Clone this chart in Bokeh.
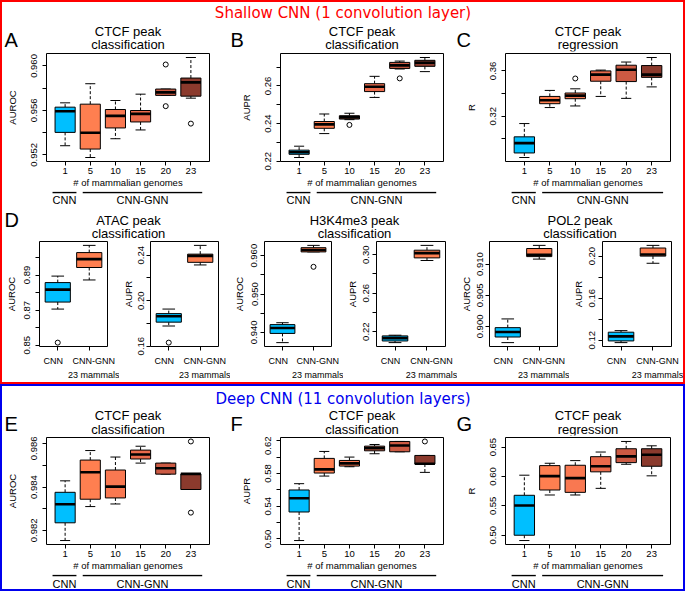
from bokeh.plotting import figure
from bokeh.layouts import row, column
from bokeh.models import Range1d, FixedTicker, ColumnDataSource, LinearAxis
from bokeh.embed import file_html
from bokeh.resources import INLINE
from bokeh.core.properties import value

FONT = "Liberation Sans"
HFONT = "DejaVu Sans"

# ---------------- data ----------------
genomes = ["1", "5", "10", "15", "20", "23"]
models2 = ["CNN", "CNN-GNN"]
models2_label_x = [0.86, 2.14]
colors6 = ["#00BFFF", "#FF7F50", "#F97851", "#EA6A4B", "#CC5A43", "#8B3A2D"]
colors2 = ["#00BFFF", "#FF7F50"]

group_names = ["CNN", "CNN-GNN"]
group_start = [0.5, 1.7]
group_end = [1.45, 6.45]

# A: CTCF peak classification AUROC (shallow)
A_lo = [0.95282, 0.95176, 0.95345, 0.95424, 0.95735, 0.95710]
A_q1 = [0.95402, 0.95252, 0.95442, 0.95496, 0.95735, 0.95728]
A_med = [0.95592, 0.95399, 0.95551, 0.95569, 0.95762, 0.95852]
A_q3 = [0.95629, 0.95656, 0.95608, 0.95599, 0.95792, 0.95891]
A_hi = [0.95668, 0.95840, 0.95689, 0.95746, 0.95792, 0.96076]
A_out_grp = ["20", "20", "23"]
A_out = [0.96013, 0.95638, 0.95481]
A_ticks = [0.952, 0.954, 0.956, 0.958, 0.960]
A_tlabels = ["0.952", "", "0.956", "", "0.960"]

# B: CTCF peak classification AUPR (shallow)
B_lo = [0.2220, 0.2347, 0.2421, 0.2539, 0.2690, 0.2676]
B_q1 = [0.2237, 0.2375, 0.2424, 0.2570, 0.2693, 0.2704]
B_med = [0.2248, 0.2396, 0.2433, 0.2596, 0.2709, 0.2723]
B_q3 = [0.2259, 0.2411, 0.2442, 0.2612, 0.2725, 0.2736]
B_hi = [0.2280, 0.2451, 0.2455, 0.2651, 0.2732, 0.2751]
B_out_grp = ["10", "20"]
B_out = [0.2393, 0.2640]
B_ticks = [0.22, 0.23, 0.24, 0.25, 0.26, 0.27]
B_tlabels = ["0.22", "", "0.24", "", "0.26", ""]

# C: CTCF peak regression R (shallow)
C_lo = [0.2837, 0.3277, 0.3291, 0.3375, 0.3358, 0.3459]
C_q1 = [0.2877, 0.3311, 0.3355, 0.3509, 0.3506, 0.3543]
C_med = [0.2964, 0.3342, 0.3382, 0.3567, 0.3610, 0.3567]
C_q3 = [0.3019, 0.3375, 0.3405, 0.3600, 0.3650, 0.3647]
C_hi = [0.3136, 0.3428, 0.3442, 0.3607, 0.3678, 0.3718]
C_out_grp = ["10"]
C_out = [0.3533]
C_ticks = [0.28, 0.30, 0.32, 0.34, 0.36, 0.38]
C_tlabels = ["0.28", "", "0.32", "", "0.36", ""]

# D1: ATAC AUROC
D1_lo = [0.8706, 0.8872]
D1_q1 = [0.8746, 0.8943]
D1_med = [0.8817, 0.8991]
D1_q3 = [0.8857, 0.9028]
D1_hi = [0.8894, 0.9069]
D1_out_grp = ["CNN"]
D1_out = [0.8515]
D1_ticks = [0.85, 0.86, 0.87, 0.88, 0.89, 0.90]
D1_tlabels = ["0.85", "", "0.87", "", "0.89", ""]

# D2: ATAC AUPR
D2_lo = [0.1777, 0.2314]
D2_q1 = [0.1811, 0.2337]
D2_med = [0.1863, 0.2394]
D2_q3 = [0.1886, 0.2409]
D2_hi = [0.1926, 0.2486]
D2_out_grp = ["CNN"]
D2_out = [0.1631]
D2_ticks = [0.16, 0.18, 0.20, 0.22, 0.24]
D2_tlabels = ["0.16", "", "0.20", "", "0.24"]

# D3: H3K4me3 AUROC
D3_lo = [0.9373, 0.9610]
D3_q1 = [0.9397, 0.9610]
D3_med = [0.9411, 0.9615]
D3_q3 = [0.9420, 0.9621]
D3_hi = [0.9425, 0.9627]
D3_out_grp = ["CNN-GNN"]
D3_out = [0.9571]
D3_ticks = [0.940, 0.945, 0.950, 0.955, 0.960]
D3_tlabels = ["0.940", "", "0.950", "", "0.960"]

# D4: H3K4me3 AUPR
D4_lo = [0.2086, 0.2940]
D4_q1 = [0.2103, 0.2967]
D4_med = [0.2133, 0.3017]
D4_q3 = [0.2156, 0.3047]
D4_hi = [0.2163, 0.3097]
D4_out_grp = []
D4_out = []
D4_ticks = [0.22, 0.24, 0.26, 0.28, 0.30]
D4_tlabels = ["0.22", "", "0.26", "", "0.30"]

# D5: POL2 AUROC
D5_lo = [0.8974, 0.9108]
D5_q1 = [0.8983, 0.9112]
D5_med = [0.8991, 0.9115]
D5_q3 = [0.8998, 0.9125]
D5_hi = [0.9012, 0.9130]
D5_out_grp = []
D5_out = []
D5_ticks = [0.900, 0.905, 0.910]
D5_tlabels = ["0.900", "0.905", "0.910"]

# D6: POL2 AUPR
D6_lo = [0.1178, 0.1932]
D6_q1 = [0.1194, 0.2000]
D6_med = [0.1237, 0.2015]
D6_q3 = [0.1277, 0.2077]
D6_hi = [0.1292, 0.2102]
D6_out_grp = []
D6_out = []
D6_ticks = [0.12, 0.14, 0.16, 0.18, 0.20]
D6_tlabels = ["0.12", "", "0.16", "", "0.20"]

# E: CTCF peak classification AUROC (deep)
E_lo = [0.98153, 0.98310, 0.98322, 0.98511, 0.98460, 0.98389]
E_q1 = [0.98235, 0.98344, 0.98350, 0.98530, 0.98460, 0.98389]
E_med = [0.98321, 0.98469, 0.98402, 0.98551, 0.98487, 0.98461]
E_q3 = [0.98376, 0.98525, 0.98479, 0.98571, 0.98511, 0.98461]
E_hi = [0.98429, 0.98569, 0.98539, 0.98589, 0.98511, 0.98461]
E_out_grp = ["23", "23"]
E_out = [0.98611, 0.98282]
E_ticks = [0.982, 0.983, 0.984, 0.985, 0.986]
E_tlabels = ["0.982", "", "0.984", "", "0.986"]

# F: CTCF peak classification AUPR (deep)
F_lo = [0.4980, 0.5768, 0.5882, 0.6041, 0.6065, 0.5813]
F_q1 = [0.5329, 0.5805, 0.5890, 0.6077, 0.6065, 0.5915]
F_med = [0.5496, 0.5850, 0.5923, 0.6110, 0.6142, 0.5919]
F_q3 = [0.5598, 0.5984, 0.5959, 0.6134, 0.6191, 0.6020]
F_hi = [0.5675, 0.6069, 0.6000, 0.6154, 0.6191, 0.6020]
F_out_grp = ["23"]
F_out = [0.6191]
F_ticks = [0.50, 0.52, 0.54, 0.56, 0.58, 0.60, 0.62]
F_tlabels = ["0.50", "", "0.54", "", "0.58", "", "0.62"]

# G: CTCF peak regression R (deep)
G_lo = [0.4910, 0.5685, 0.5685, 0.5798, 0.6208, 0.6011]
G_q1 = [0.5000, 0.5770, 0.5730, 0.6079, 0.6236, 0.6174]
G_med = [0.5506, 0.6006, 0.5972, 0.6174, 0.6343, 0.6371]
G_q3 = [0.5680, 0.6185, 0.6191, 0.6337, 0.6472, 0.6472]
G_hi = [0.6022, 0.6225, 0.6270, 0.6416, 0.6596, 0.6522]
G_out_grp = []
G_out = []
G_ticks = [0.50, 0.55, 0.60, 0.65]
G_tlabels = ["0.50", "0.55", "0.60", "0.65"]


# ---------------- helpers ----------------
def blank_fig(width, height, x_range, y_range, left=1, right=1):
    p = figure(width=width, height=height, x_range=x_range, y_range=y_range,
               toolbar_location=None, tools="", output_backend="svg",
               x_axis_location=None, y_axis_location=None, title_location=None,
               min_border=1, min_border_left=left, min_border_right=right,
               min_border_top=1, min_border_bottom=1)
    p.grid.visible = False
    p.outline_line_color = None
    p.border_fill_color = "white"
    p.background_fill_color = "white"
    return p


def pixel_fig(width, height, texts):
    p = blank_fig(width, height, Range1d(1, width - 1), Range1d(1, height - 1))
    for (x, y, txt, font, size, color, align) in texts:
        p.text(x=[x], y=[y], text=[txt], text_font=value(font), text_font_size=size,
               text_color=color, text_align=align, text_baseline="middle")
    return p


def style_axis(ax, size="9.5px"):
    ax.axis_line_color = None
    ax.major_tick_line_color = "black"
    ax.major_tick_in = 0
    ax.major_tick_out = 4
    ax.minor_tick_line_color = None
    ax.major_label_text_font = FONT
    ax.major_label_text_font_size = size
    ax.major_label_text_color = "black"
    ax.axis_label_text_font = FONT
    ax.axis_label_text_font_size = "9.5px"
    ax.axis_label_text_font_style = "normal"
    ax.axis_label_text_color = "black"


def make_box(width, height, left, right, top, bottom, labels, colors,
             lo, q1, med, q3, hi, out_grp, out_val, yticks, ylabels, ylabel,
             xlabel=None, ylab_standoff=10, show_xlabels=True, ytick_standoff=3):
    n = len(labels)
    xs = list(range(1, n + 1))
    allv = lo + hi + out_val
    vmin, vmax = min(allv), max(allv)
    pad = 0.04 * (vmax - vmin)
    p = figure(width=width, height=height,
               x_range=Range1d(0.5 - 0.04 * n, n + 0.5 + 0.04 * n),
               y_range=Range1d(vmin - pad, vmax + pad),
               toolbar_location=None, tools="", output_backend="svg",
               title_location=None, min_border=1,
               min_border_left=left, min_border_right=right,
               min_border_top=top, min_border_bottom=bottom)
    p.grid.visible = False
    p.outline_line_color = "black"
    p.outline_line_width = 1
    p.background_fill_color = "white"
    p.border_fill_color = "white"
    src = ColumnDataSource(dict(
        x=xs, lo=lo, q1=q1, med=med, q3=q3, hi=hi, fill=colors[:n],
        xl=[x - 0.4 for x in xs], xr=[x + 0.4 for x in xs],
        cl=[x - 0.2 for x in xs], cr=[x + 0.2 for x in xs]))
    p.segment(x0="x", y0="q3", x1="x", y1="hi", source=src,
              line_color="black", line_dash="3 2", line_width=1)
    p.segment(x0="x", y0="q1", x1="x", y1="lo", source=src,
              line_color="black", line_dash="3 2", line_width=1)
    p.segment(x0="cl", y0="hi", x1="cr", y1="hi", source=src,
              line_color="black", line_width=1)
    p.segment(x0="cl", y0="lo", x1="cr", y1="lo", source=src,
              line_color="black", line_width=1)
    p.vbar(x="x", width=0.8, bottom="q1", top="q3", source=src,
           fill_color="fill", line_color="black", line_width=1)
    p.segment(x0="xl", y0="med", x1="xr", y1="med", source=src,
              line_color="black", line_width=2.6)
    if out_val:
        ox = [labels.index(g) + 1 for g in out_grp]
        p.scatter(ox, out_val, marker="circle", size=5, fill_color=None,
                  line_color="black", line_width=1)

    xa = p.xaxis[0]
    ya = p.yaxis[0]
    style_axis(xa)
    style_axis(ya)
    xa.ticker = FixedTicker(ticks=xs)
    if show_xlabels:
        xa.major_label_overrides = {x: lab for x, lab in zip(xs, labels)}
        xa.major_label_standoff = 2
    else:
        xa.major_label_overrides = {x: "" for x in xs}
        xa.major_label_text_font_size = "1px"
        xa.major_label_standoff = 0
    xa.axis_label_standoff = 0
    if xlabel:
        xa.axis_label = xlabel
    ya.ticker = FixedTicker(ticks=yticks)
    ya.major_label_overrides = {t: lab for t, lab in zip(yticks, ylabels)}
    ya.major_label_orientation = "vertical"
    ya.major_label_standoff = ytick_standoff
    ya.axis_label = ylabel
    ya.axis_label_standoff = ylab_standoff
    return p


# ---------------- layout ----------------
INNER = 681
xl = "# of mammalian genomes"
abc_geom = [(44, 163, 19), (52, 163, 11), (51, 165, 13)]
cls = ["CTCF peak", "classification"]
reg = ["CTCF peak", "regression"]


def make_section_header(height, title, color, title_y, titles, letters, y1, y2, yl):
    texts = [(INNER / 2, title_y, title, HFONT, "15px", color, "center")]
    x0 = 0
    for (lft, fw, rgt), ttl, letter in zip(abc_geom, titles, letters):
        cx = x0 + lft + fw / 2
        texts.append((cx, y1, ttl[0], FONT, "13px", "black", "center"))
        texts.append((cx, y2, ttl[1], FONT, "13px", "black", "center"))
        texts.append((x0 + 2, yl, letter, FONT, "20px", "black", "left"))
        x0 += lft + fw + rgt
    return pixel_fig(INNER, height, texts)


def make_row3(specs, frame_h, foot_h, line_y, text_y):
    cols = []
    for (spec, (lft, fw, rgt)) in zip(specs, abc_geom):
        lo, q1, med, q3, hi, og, ov, tk, tl, ylab = spec
        w = lft + fw + rgt
        p = make_box(w, 1 + frame_h + 28, lft, rgt, 1, 28, genomes, colors6,
                     lo, q1, med, q3, hi, og, ov, tk, tl, ylab, xlabel=xl,
                     ylab_standoff=11, ytick_standoff=5)
        foot = blank_fig(w, foot_h, p.x_range, Range1d(1, foot_h - 1), left=lft, right=rgt)
        foot.segment(x0=group_start, y0=[line_y] * 2, x1=group_end, y1=[line_y] * 2,
                     line_color="black", line_width=1.3)
        foot.text(x=[(s + e) / 2 for s, e in zip(group_start, group_end)], y=[text_y] * 2,
                  text=group_names, text_font=value(FONT), text_font_size="11px",
                  text_color="black", text_align="center", text_baseline="middle")
        cols.append(column(p, foot, spacing=0))
    return row(cols, spacing=0)


top_hdr = make_section_header(50, "Shallow CNN (1 convolution layer)", "#FF0000", 39.5,
                              [cls, cls, reg], ["A", "B", "C"], 21, 8, 12.5)
rowABC = make_row3([
    (A_lo, A_q1, A_med, A_q3, A_hi, A_out_grp, A_out, A_ticks, A_tlabels, "AUROC"),
    (B_lo, B_q1, B_med, B_q3, B_hi, B_out_grp, B_out, B_ticks, B_tlabels, "AUPR"),
    (C_lo, C_q1, C_med, C_q3, C_hi, C_out_grp, C_out, C_ticks, C_tlabels, "R"),
], 109, 16, 14, 6.5)

bot_hdr = make_section_header(50, "Deep CNN (11 convolution layers)", "#0000EE", 37.5,
                              [cls, cls, reg], ["E", "F", "G"], 21, 7.5, 12.5)
rowEFG = make_row3([
    (E_lo, E_q1, E_med, E_q3, E_hi, E_out_grp, E_out, E_ticks, E_tlabels, "AUROC"),
    (F_lo, F_q1, F_med, F_q3, F_hi, F_out_grp, F_out, F_ticks, F_tlabels, "AUPR"),
    (G_lo, G_q1, G_med, G_q3, G_hi, G_out_grp, G_out, G_ticks, G_tlabels, "R"),
], 108, 16, 14, 6)

# D row
D_H = 142
D_TOP, D_BOT = 1, 34
DH_H = 34
d_geom = [(36, 69, 12), (30, 69, 12), (33, 68, 12), (32, 70, 12), (31, 69, 12), (32, 70, 12)]
d_specs = [
    (D1_lo, D1_q1, D1_med, D1_q3, D1_hi, D1_out_grp, D1_out, D1_ticks, D1_tlabels, "AUROC"),
    (D2_lo, D2_q1, D2_med, D2_q3, D2_hi, D2_out_grp, D2_out, D2_ticks, D2_tlabels, "AUPR"),
    (D3_lo, D3_q1, D3_med, D3_q3, D3_hi, D3_out_grp, D3_out, D3_ticks, D3_tlabels, "AUROC"),
    (D4_lo, D4_q1, D4_med, D4_q3, D4_hi, D4_out_grp, D4_out, D4_ticks, D4_tlabels, "AUPR"),
    (D5_lo, D5_q1, D5_med, D5_q3, D5_hi, D5_out_grp, D5_out, D5_ticks, D5_tlabels, "AUROC"),
    (D6_lo, D6_q1, D6_med, D6_q3, D6_hi, D6_out_grp, D6_out, D6_ticks, D6_tlabels, "AUPR"),
]
d_titles = [["ATAC peak", "classification"], ["H3K4me3 peak", "classification"],
            ["POL2 peak", "classification"]]

dfigs = []
for (lft, fw, rgt), spec in zip(d_geom, d_specs):
    lo, q1, med, q3, hi, og, ov, tk, tl, ylab = spec
    w = lft + fw + rgt
    ts = 2 + max(0, (lft - 30) // 2)
    ls = max(2, lft - 28 - (ts - 2))
    p = make_box(w, D_H, lft, rgt, D_TOP, D_BOT, models2, colors2,
                 lo, q1, med, q3, hi, og, ov, tk, tl, ylab,
                 ylab_standoff=ls, show_xlabels=False, ytick_standoff=ts)
    ax2 = LinearAxis(ticker=FixedTicker(ticks=models2_label_x),
                     major_label_overrides={x: m for x, m in zip(models2_label_x, models2)})
    style_axis(ax2, "9px")
    ax2.major_tick_line_color = None
    ax2.major_tick_out = 0
    ax2.major_label_standoff = 5
    p.add_layout(ax2, "below")
    ax3 = LinearAxis(ticker=FixedTicker(ticks=[models2_label_x[1]]),
                     major_label_overrides={models2_label_x[1]: "23 mammals"})
    style_axis(ax3, "9px")
    ax3.major_tick_line_color = None
    ax3.major_tick_out = 0
    ax3.major_label_standoff = 1
    p.add_layout(ax3, "below")
    dfigs.append(p)

d_texts = [(2, 21, "D", FONT, "20px", "black", "left")]
x0 = 0
for k in range(3):
    g1 = d_geom[2 * k]
    g2 = d_geom[2 * k + 1]
    fl = x0 + g1[0]
    fr = x0 + sum(g1) + g2[0] + g2[1]
    cx = (fl + fr) / 2
    d_texts.append((cx, 20, d_titles[k][0], FONT, "13px", "black", "center"))
    d_texts.append((cx, 7, d_titles[k][1], FONT, "13px", "black", "center"))
    x0 += sum(g1) + sum(g2)
d_hdr = pixel_fig(INNER, DH_H, d_texts)
rowD = row(dfigs, spacing=0)

top = column(top_hdr, rowABC, d_hdr, rowD, spacing=0,
             styles={"border": "2px solid #FF0000"})
bottom = column(bot_hdr, rowEFG, spacing=0, styles={"border": "2px solid #0000EE"})
layout = column(top, bottom, spacing=0)

open("out.html", "w").write(file_html(layout, INLINE))
